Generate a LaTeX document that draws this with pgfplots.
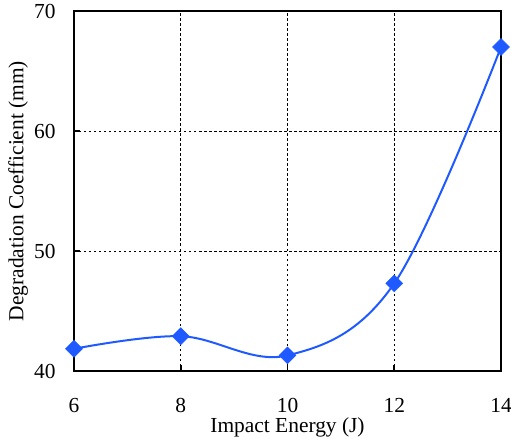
\documentclass[border=0pt]{standalone}
\usepackage{pgfplots}
\pgfplotsset{compat=1.18}
\usepackage{fontspec}
\setmainfont{Liberation Serif}
\definecolor{lineblue}{RGB}{30,90,255}
\begin{document}
\begin{tikzpicture}[x=1bp,y=1bp]
\useasboundingbox (-74bp,-68bp) rectangle (437bp,371bp);
\begin{axis}[
  at={(0,0)}, anchor=south west,
  scale only axis,
  width=427bp, height=360bp,
  xmin=6, xmax=14, ymin=40, ymax=70,
  xtick={6,8,10,12,14}, ytick={40,50,60,70},
  tick pos=left,
  grid=major,
  grid style={black, dash pattern=on 2.5bp off 2.5bp, line width=0.8pt},
  axis line style={black, line width=1.6pt},
  tick style={black, line width=1.6pt},
  tick align=inside,
  major tick length=6bp,
  /pgf/number format/assume math mode=true,
  tick label style={font=\fontsize{21.5}{24}\selectfont},
  label style={font=\fontsize{21.5}{24}\selectfont},
  xticklabel style={yshift=-24bp},
  yticklabel style={xshift=-15bp},
  xlabel={Impact Energy (J)},
  ylabel={Degradation Coefficient (mm)},
  xlabel style={at={(axis description cs:0.5,-0.157)}, anchor=center},
  ylabel style={at={(axis description cs:-0.131,0.5)}, anchor=center},
]
\addplot[color=lineblue, line width=2pt, smooth, tension=0.6,
  mark=square*, mark size=6bp, mark options={rotate=45, fill=lineblue, draw=lineblue, line width=0.5pt}]
  coordinates {(6,41.85) (8,42.9) (10,41.3) (12,47.3) (14,67.0)};
\end{axis}
\end{tikzpicture}
\end{document}
